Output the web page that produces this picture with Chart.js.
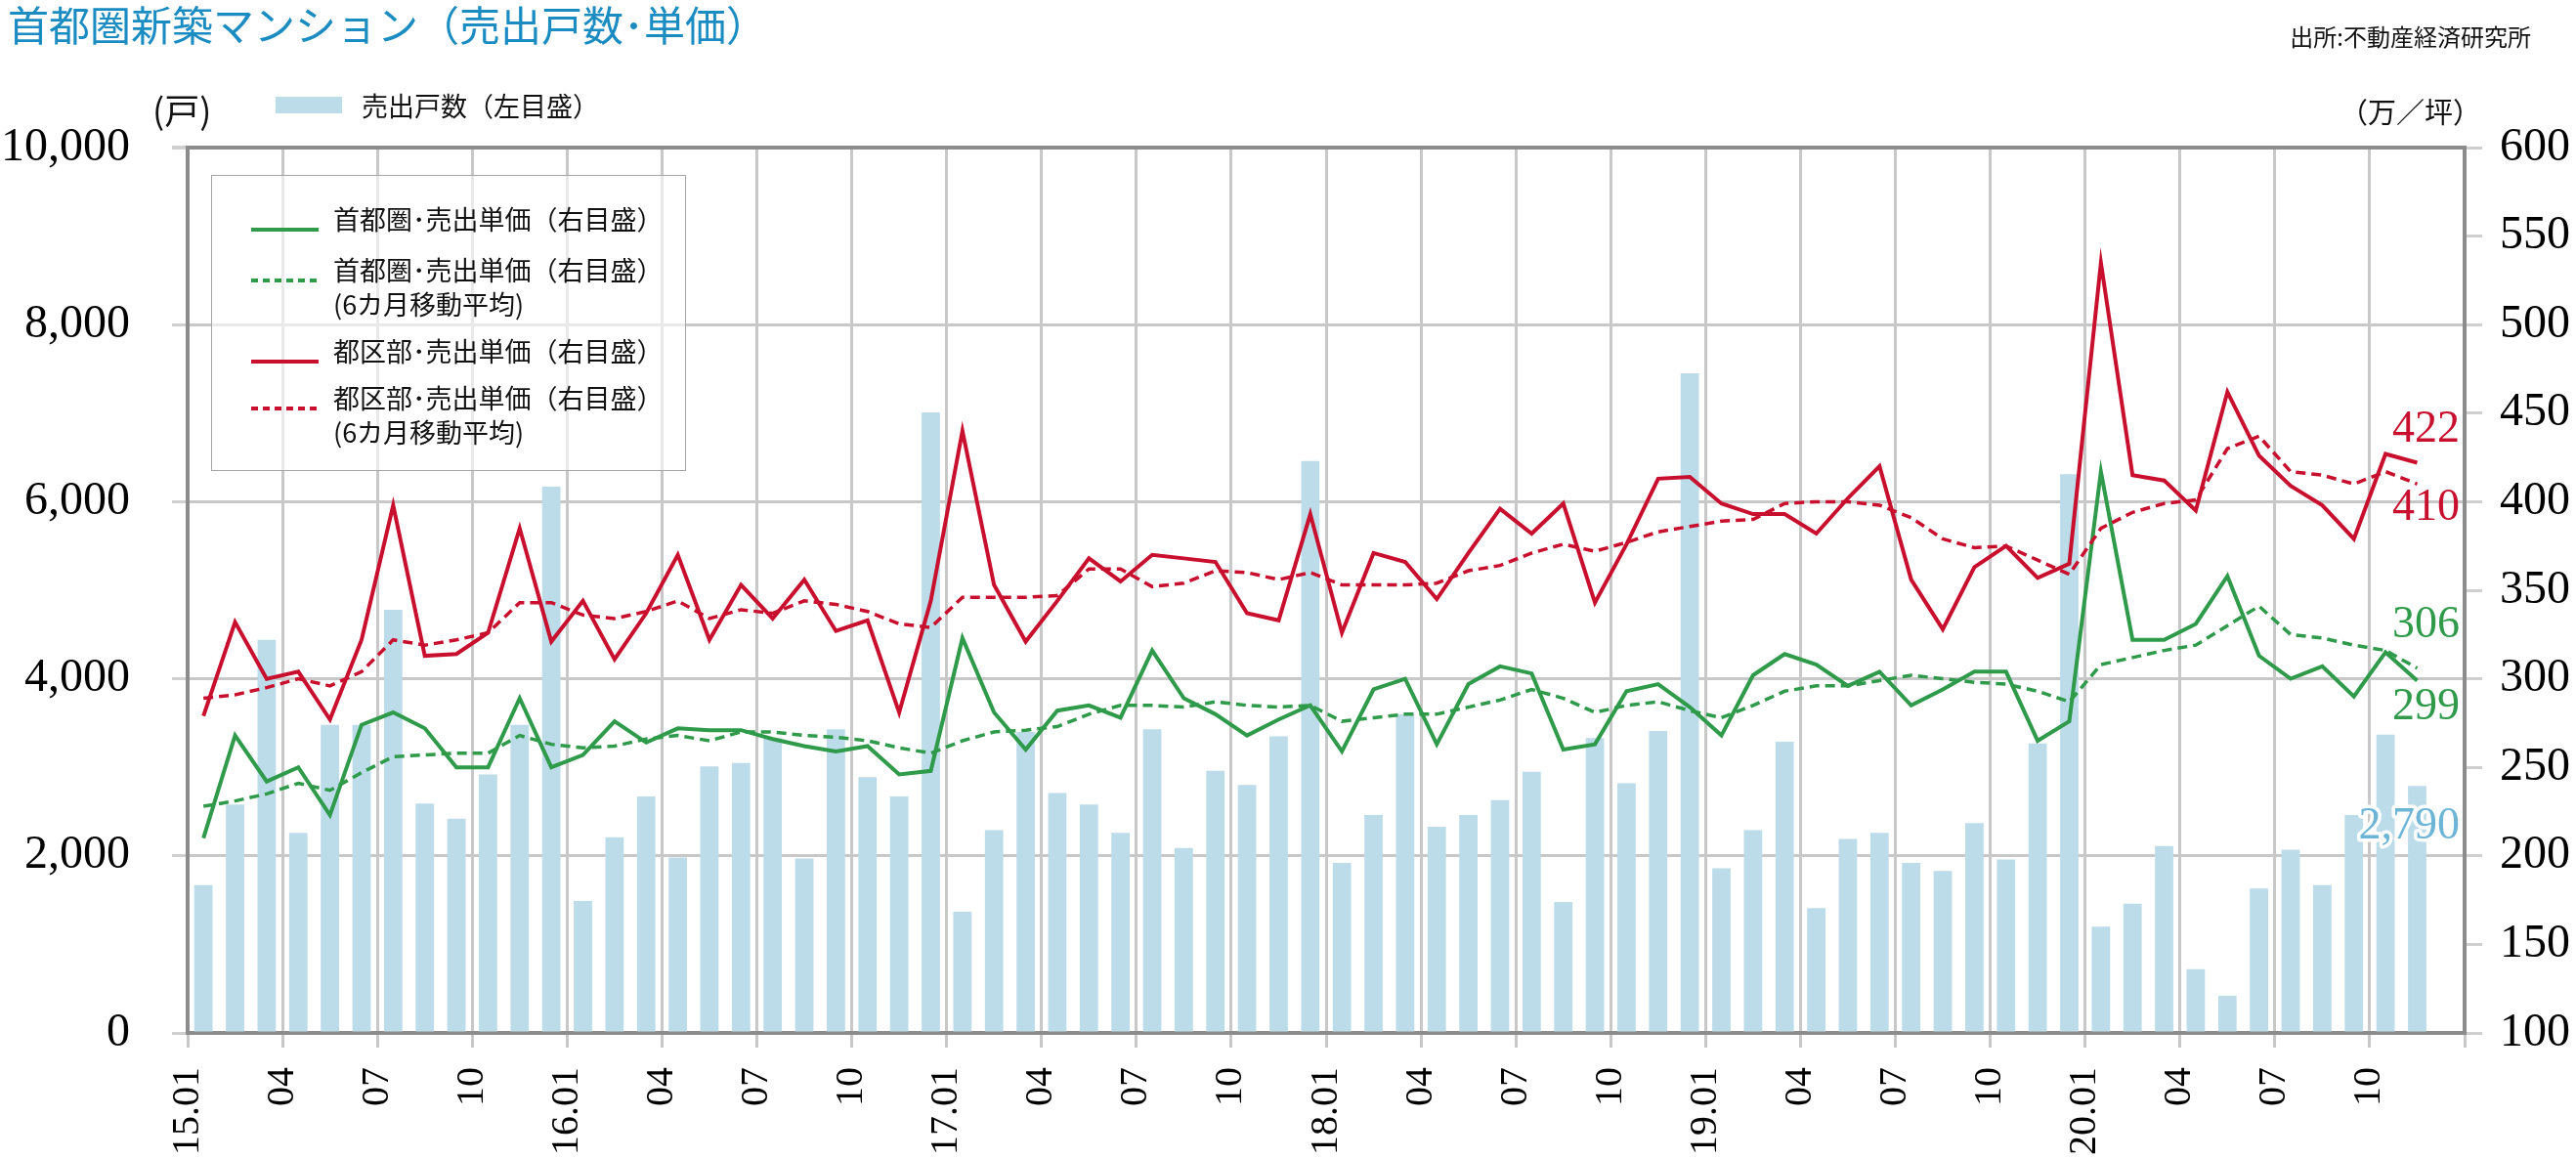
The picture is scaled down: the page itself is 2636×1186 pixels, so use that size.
<!DOCTYPE html>
<html lang="ja">
<head>
<meta charset="utf-8">
<script src="https://cdn.jsdelivr.net/npm/chart.js@4.4.1/dist/chart.umd.min.js"></script>
<style>
  html, body { margin: 0; padding: 0; background: #fff; }
  #wrap { position: relative; width: 2636px; height: 1186px; overflow: hidden; font-family: "Noto Sans CJK JP", sans-serif; }
  #chart { position: absolute; left: 0; top: 0; }
  .txt { position: absolute; white-space: nowrap; line-height: 1; color: #111; }
  #title { left: 8px; top: 3px; font-size: 42px; color: #1a8cc2; }
  #source { right: 46px; top: 25px; font-size: 24px; }
  #unitL { left: 156px; top: 93px; font-size: 36px; }
  #unitR { right: 97px; top: 99px; font-size: 29px; }
  #lineLegend { position: absolute; left: 216px; top: 179px; width: 486px; height: 303px; box-sizing: border-box;
    border: 1.5px solid #a5a5a5; background: rgba(255,255,255,0.6); }
  .sw { position: absolute; }
  .lg { position: absolute; font-size: 27px; line-height: 1; white-space: nowrap; color: #111; }
</style>
</head>
<body>
<div id="wrap">
  <canvas id="chart" width="2636" height="1186"></canvas>
  <div class="txt" id="title">首都圏新築マンション（売出戸数･単価）</div>
  <div class="txt" id="source">出所:不動産経済研究所</div>
  <div class="txt" id="unitL">(戸)</div>
  <div class="txt" id="unitR">（万／坪）</div>
  <div id="barLegend"></div>
  <div id="lineLegend"></div>
</div>
<script>
// 2015.01 - 2020.11 月次
const tickLabels = ['15.01', '04', '07', '10', '16.01', '04', '07', '10', '17.01', '04', '07', '10',
  '18.01', '04', '07', '10', '19.01', '04', '07', '10', '20.01', '04', '07', '10'];

// 売出戸数(戸)
const units = [1670, 2580, 4440, 2260, 3480, 3480, 4780, 2590, 2420, 2920, 3480, 6170,
  1490, 2210, 2670, 1980, 3010, 3050, 3330, 1970, 3430, 2890, 2670, 7010,
  1370, 2290, 3400, 2710, 2580, 2260, 3430, 2090, 2960, 2800, 3350, 6460,
  1920, 2460, 3600, 2330, 2460, 2630, 2950, 1480, 3330, 2820, 3410, 7450,
  1860, 2290, 3290, 1410, 2190, 2260, 1920, 1830, 2370, 1960, 3270, 6310,
  1200, 1460, 2110, 720, 420, 1630, 2070, 1670, 2460, 3370, 2790];

// 首都圏・売出単価(万/坪)
const shutoPrice = [210, 268, 242, 250, 223, 274, 281, 272, 250, 250, 289, 250,
  257, 276, 264, 272, 271, 271, 266, 262, 259, 262, 246, 248,
  323, 281, 260, 282, 285, 278, 316, 289, 280, 268, 277, 285,
  259, 294, 300, 263, 297, 307, 303, 260, 263, 293, 297, 284,
  268, 302, 314, 308, 296, 304, 285, 294, 304, 304, 265, 276,
  417, 322, 322, 331, 358, 313, 300, 307, 290, 315, 299];

const shutoPriceMA = [228, 231, 235, 241, 237, 247, 256, 257, 258, 258, 268, 263,
  261, 262, 266, 268, 265, 270, 270, 268, 267, 265, 261, 258,
  265, 270, 271, 273, 280, 285, 285, 284, 287, 285, 284, 285,
  276, 278, 280, 280, 284, 288, 294, 289, 281, 285, 287, 282,
  278, 285, 293, 296, 296, 299, 302, 300, 298, 297, 293, 287,
  308, 312, 316, 319, 330, 341, 325, 323, 319, 316, 306];

// 都区部・売出単価(万/坪)
const tokuPrice = [279, 332, 300, 304, 277, 322, 398, 313, 314, 326, 385, 321,
  344, 311, 337, 370, 322, 353, 334, 356, 327, 333, 281, 344,
  440, 353, 321, 344, 368, 355, 370, 368, 366, 337, 333, 393,
  326, 371, 366, 345, 371, 396, 382, 399, 343, 376, 413, 414,
  399, 393, 393, 382, 402, 420, 356, 328, 363, 375, 357, 365,
  535, 415, 412, 395, 462, 426, 409, 398, 379, 427, 422];

const tokuPriceMA = [289, 291, 295, 300, 296, 304, 322, 319, 322, 326, 343, 343,
  336, 334, 338, 344, 334, 339, 337, 344, 342, 338, 331, 329,
  346, 346, 346, 347, 362, 362, 352, 354, 361, 360, 356, 360,
  353, 353, 353, 354, 361, 364, 371, 376, 372, 377, 383, 386,
  389, 390, 399, 400, 400, 398, 391, 379, 374, 375, 367, 359,
  385, 394, 399, 401, 430, 437, 417, 415, 410, 417, 410];

const GREEN = '#2e9a4a';
const RED = '#c8102e';
const BAR = '#bcdcea';
const GRID = '#c8c8c8';
const AXIS = '#8c8c8c';
const SERIF = '"Liberation Serif", "Times New Roman", serif';

// 各月は区間の中央に置く(目盛は月の境目)
const toPoints = arr => arr.map((v, i) => ({ x: i + 0.5, y: v }));

const lineDs = (label, legendText, data, color, dashed, order, dy) => ({
  type: 'line',
  label,
  legendText,
  data: toPoints(data),
  borderColor: color,
  borderWidth: dashed ? 3.5 : 4,
  borderDash: dashed ? [10, 6] : [],
  pointRadius: 0,
  tension: 0,
  yAxisID: 'y1',
  order,
  endLabel: { dy }
});

const datasets = [
  lineDs('首都圏･売出単価', ['首都圏･売出単価（右目盛）'], shutoPrice, GREEN, false, 2, 28),
  lineDs('首都圏･売出単価(6カ月移動平均)', ['首都圏･売出単価（右目盛）', '(6カ月移動平均)'], shutoPriceMA, GREEN, true, 3, -44),
  lineDs('都区部･売出単価', ['都区部･売出単価（右目盛）'], tokuPrice, RED, false, 0, -34),
  lineDs('都区部･売出単価(6カ月移動平均)', ['都区部･売出単価（右目盛）', '(6カ月移動平均)'], tokuPriceMA, RED, true, 1, 25),
  {
    type: 'bar',
    label: '売出戸数（左目盛）',
    data: toPoints(units),
    backgroundColor: BAR,
    barPercentage: 0.58,
    categoryPercentage: 1,
    yAxisID: 'y',
    order: 10,
    endLabel: { dy: 42, color: '#6cb5d6', halo: true }
  }
];

// 右端の最新値ラベル
const endLabels = {
  id: 'endLabels',
  afterDatasetsDraw(chart) {
    const { ctx, chartArea } = chart;
    chart.data.datasets.forEach((ds, i) => {
      if (!ds.endLabel) return;
      const meta = chart.getDatasetMeta(i);
      const el = meta.data[meta.data.length - 1];
      const text = ds.data[ds.data.length - 1].y.toLocaleString('en-US');
      const x = chartArea.right - 5;
      const y = el.y + ds.endLabel.dy;
      ctx.save();
      ctx.font = '46px ' + SERIF;
      ctx.textAlign = 'right';
      ctx.textBaseline = 'middle';
      if (ds.endLabel.halo) {
        ctx.lineWidth = 7;
        ctx.lineJoin = 'round';
        ctx.strokeStyle = '#fff';
        ctx.strokeText(text, x, y);
      }
      ctx.fillStyle = ds.endLabel.color || ds.borderColor;
      ctx.fillText(text, x, y);
      ctx.restore();
    });
  }
};

const chart = new Chart(document.getElementById('chart'), {
  type: 'bar',
  data: { datasets },
  plugins: [endLabels],
  options: {
    responsive: false,
    animation: false,
    layout: { padding: { top: 151, left: 0, right: 0, bottom: 0 } },
    plugins: {
      legend: { display: false },
      title: { display: false },
      tooltip: { enabled: false }
    },
    scales: {
      x: {
        type: 'linear',
        min: 0,
        max: 72,
        offset: false,
        afterFit: s => { s.height = 129; },
        grid: { color: GRID, lineWidth: 3, tickLength: 15, tickColor: GRID, offset: false },
        border: { color: AXIS, width: 4 },
        ticks: {
          stepSize: 3,
          autoSkip: false,
          maxRotation: 90,
          minRotation: 90,
          padding: 20,
          color: '#000',
          font: { family: SERIF, size: 40 },
          callback: v => tickLabels[v / 3] ?? ''
        }
      },
      y: {
        position: 'left',
        min: 0,
        max: 10000,
        afterFit: s => { s.width = 192; },
        grid: {
          color: c => (c.tick && c.tick.value === 10000 ? AXIS : GRID),
          lineWidth: c => (c.tick && c.tick.value === 10000 ? 4 : 3),
          tickLength: 16,
          tickColor: '#cfcfcf'
        },
        border: { color: AXIS, width: 4 },
        ticks: {
          stepSize: 2000,
          padding: 43,
          color: '#000',
          font: { family: SERIF, size: 48 },
          callback: v => v.toLocaleString('en-US')
        }
      },
      y1: {
        position: 'right',
        min: 100,
        max: 600,
        afterFit: s => { s.width = 114; },
        grid: { drawOnChartArea: false, tickLength: 18, tickColor: '#cfcfcf', lineWidth: 3 },
        border: { color: AXIS, width: 4 },
        ticks: {
          stepSize: 50,
          padding: 18,
          color: '#000',
          font: { family: SERIF, size: 48 }
        }
      }
    }
  }
});

// 凡例(HTML)
const swatch = (color, dashed) =>
  `<svg width="69" height="8"><line x1="0" y1="4" x2="69" y2="4" stroke="${color}" stroke-width="4"` +
  (dashed ? ' stroke-dasharray="7 5"' : '') + '/></svg>';

const barDs = datasets[4];
document.getElementById('barLegend').innerHTML =
  `<div class="sw" style="left:282px;top:99px;width:68px;height:17px;background:${barDs.backgroundColor}"></div>` +
  `<div class="lg" style="left:370px;top:94px">${barDs.label}</div>`;

const legendRows = [
  { ds: datasets[0], y: 44 },
  { ds: datasets[1], y: 96 },
  { ds: datasets[2], y: 179 },
  { ds: datasets[3], y: 227 }
];
let html = '';
legendRows.forEach(({ ds, y }) => {
  html += `<div class="sw" style="left:40px;top:${y - 4}px">${swatch(ds.borderColor, ds.borderDash.length > 0)}</div>`;
  ds.legendText.forEach((t, k) => {
    html += `<div class="lg" style="left:124px;top:${y - 14 + k * 35}px">${t}</div>`;
  });
});
document.getElementById('lineLegend').innerHTML = html;
</script>
</body>
</html>
